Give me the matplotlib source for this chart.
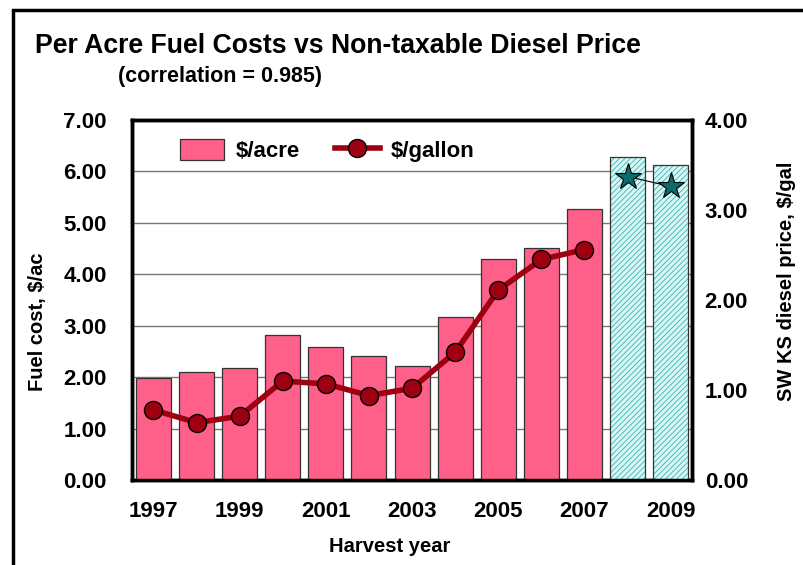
import numpy as np
import matplotlib
matplotlib.use('Agg')
from matplotlib import pyplot as plt
from matplotlib.patches import Rectangle
from matplotlib.ticker import FormatStrFormatter, MultipleLocator

# dati
years = [1997, 1998, 1999, 2000, 2001, 2002, 2003, 2004, 2005, 2006, 2007, 2008, 2009]
cost_acre = [1.99, 2.10, 2.18, 2.82, 2.58, 2.42, 2.22, 3.17, 4.30, 4.51, 5.27, 6.27, 6.12]
price_gal = [0.78, 0.64, 0.71, 1.10, 1.07, 0.94, 1.02, 1.42, 2.11, 2.45, 2.56]
proj_years = [2008, 2009]
proj_price = [3.37, 3.26]
tick_years = [1997, 1999, 2001, 2003, 2005, 2007, 2009]

plt.rcParams['font.family'] = ['Liberation Sans', 'DejaVu Sans']
plt.rcParams['font.weight'] = 'bold'
plt.rcParams['hatch.linewidth'] = 0.6

pink = '#FF6089'
dred = '#9E0012'
teal = '#0E6B6B'

fig = plt.figure(figsize=(8.04, 5.65), dpi=100)
ax1 = fig.add_axes([0.164, 0.150, 0.697, 0.638])

x = np.arange(len(years))
nh = len(years) - len(proj_years)
# barre storiche
ax1.bar(x[:nh], cost_acre[:nh], 0.81, color=pink, edgecolor='#333333', lw=0.9, zorder=3, label='$/acre')
# barre proiezione (tratteggiate)
ax1.bar(x[nh:], cost_acre[nh:], 0.81, color='#D8F6F6', edgecolor='#3BB3B3', hatch='//////', lw=0, zorder=3)
ax1.bar(x[nh:], cost_acre[nh:], 0.81, fill=False, edgecolor='#333333', lw=0.9, zorder=4)

ax1.set_xlim(-0.5, len(years) - 0.5)
ax1.set_ylim(0, 7)
ax1.yaxis.set_major_locator(MultipleLocator(1.))
ax1.yaxis.set_major_formatter(FormatStrFormatter('%.2f'))
ax1.set_xticks([years.index(y) for y in tick_years])
ax1.set_xticklabels([str(y) for y in tick_years])
ax1.grid(axis='y', color='#777777', lw=1.0, zorder=0)
ax1.set_axisbelow(True)
ax1.tick_params(length=0, labelsize=16)
ax1.tick_params(axis='y', pad=18)
ax1.tick_params(axis='x', pad=15)
ax1.set_ylabel('Fuel cost, $/ac', fontsize=14.5, fontweight='bold')
ax1.yaxis.set_label_coords(-0.152, 0.44)
ax1.set_xlabel('Harvest year', fontsize=14.5, fontweight='bold')
ax1.xaxis.set_label_coords(0.46, -0.158)

ax2 = ax1.twinx()
ax2.set_ylim(0, 4)
ax2.yaxis.set_major_locator(MultipleLocator(1.))
ax2.yaxis.set_major_formatter(FormatStrFormatter('%.2f'))
ax2.tick_params(length=0, labelsize=16, pad=9)
ax2.plot(x[:len(price_gal)], price_gal, '-o', color=dred, lw=4, ms=13, mfc=dred, mec='black', mew=1,
         zorder=5, label='$/gallon')
px = [years.index(y) for y in proj_years]
ax2.plot(px, proj_price, '-*', color='black', lw=0.8, ms=20, mfc=teal, mec='black', mew=0.8, zorder=5)
ax2.set_ylabel('SW KS diesel price, $/gal', fontsize=14.5, fontweight='bold')
ax2.yaxis.set_label_coords(1.152, 0.553)

for ax in (ax1, ax2):
    for s in ax.spines.values():
        s.set_linewidth(2.5)
        s.set_color('black')

h1, l1 = ax1.get_legend_handles_labels()
h2, l2 = ax2.get_legend_handles_labels()
ax2.legend(h1 + h2, l1 + l2, loc='center left', bbox_to_anchor=(0.05, 0.915), ncol=2, frameon=False,
           prop={'size': 16, 'weight': 'bold'}, handlelength=2.0, handleheight=1.1, columnspacing=1.6,
           handletextpad=0.5)

fig.text(0.044, 0.918, 'Per Acre Fuel Costs vs Non-taxable Diesel Price', fontsize=19.2, fontweight='bold',
         va='center', ha='left')
fig.text(0.147, 0.865, '(correlation = 0.985)', fontsize=15.5, fontweight='bold', va='center', ha='left')

# cornice esterna
fig.patches.append(Rectangle((0.016, -0.1), 1.2, 1.082, transform=fig.transFigure, fill=False,
                             edgecolor='black', lw=2.5, clip_on=False))

fig.savefig('out.png', dpi=100)
